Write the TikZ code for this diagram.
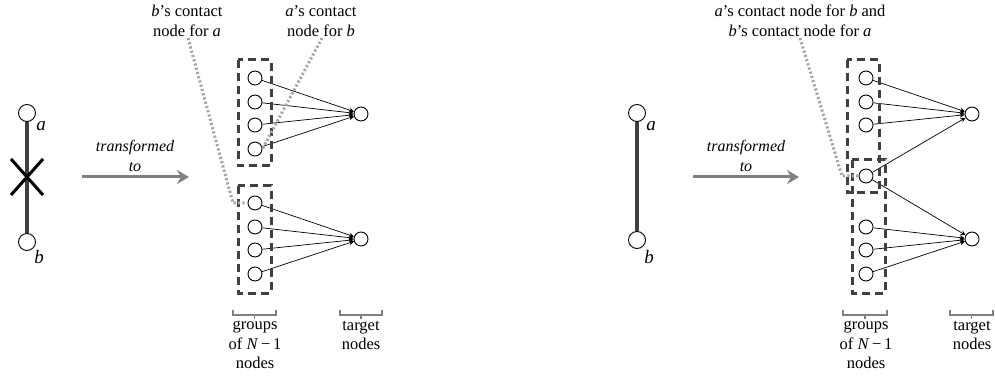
\documentclass[tikz,border=0pt]{standalone}
\usepackage{fontspec}
\setmainfont{Liberation Serif}
\usetikzlibrary{arrows.meta}
\begin{document}
\begin{tikzpicture}[x=1pt,y=-1pt,
  txt/.style={font=\fontsize{16.5}{20}\selectfont, inner sep=0pt, align=center},
  itx/.style={font=\fontsize{16}{20}\selectfont\itshape, inner sep=0pt, align=center},
  lbl/.style={font=\fontsize{19}{20}\selectfont\itshape, inner sep=0pt},
  bv/.style={circle, draw, fill=white, minimum size=17pt, inner sep=0pt, line width=0.9pt},
  sv/.style={circle, draw, fill=white, minimum size=14pt, inner sep=0pt, line width=0.9pt},
  abline/.style={line width=3.6pt, draw=black!75},
  cross/.style={line width=3pt, draw=black},
  tarrow/.style={line width=3pt, draw=black!50, -{Stealth[length=12pt,width=14pt,inset=4pt]}},
  edge/.style={line width=0.7pt, -{Stealth[length=5pt,width=5pt,inset=1.8pt]}},
  dbox/.style={line width=3pt, draw=black!75, dash pattern=on 8pt off 5pt},
  dots/.style={line width=3pt, draw=black!35, dash pattern=on 2.2pt off 2.2pt},
  brk/.style={line width=1.8pt, draw=black!50},
  glab/.style={txt, anchor=north, font=\fontsize{16.5}{19.5}\selectfont},
]
\useasboundingbox (0,0) rectangle (995,379);

% ---------------- left panel ----------------
\node[bv] (a1) at (27,113) {};
\node[bv] (b1) at (27,242) {};
\draw[abline] (a1) -- (b1);
\node[lbl] (la1) at (41,126) {a};
\node[lbl] (lb1) at (39,257) {b};
\draw[cross] (11,159) -- (43,195) (43,159) -- (11,195);

\coordinate (ts1) at (82,177);
\coordinate (te1) at (189,177);
\draw[tarrow] (ts1) -- (te1);
\node[itx] (tl1) at (135,156) {transformed\\to};

\foreach \i/\y in {1/78,2/102,3/125,4/149,5/203,6/227,7/250,8/274}
  \node[sv] (g\i) at (255,\y) {};
\node[sv] (t1) at (361,114) {};
\node[sv] (t2) at (361,239) {};
\foreach \i in {1,2,3,4} \draw[edge] (g\i) -- (t1);
\foreach \i in {5,6,7,8} \draw[edge] (g\i) -- (t2);

\draw[dbox] (238,60) rectangle (271,166);
\draw[dbox] (238,186) rectangle (271,293);

\node[txt] (cb) at (187,21) {\textit{b}’s contact\\node for \textit{a}};
\node[txt] (ca) at (321,21) {\textit{a}’s contact\\node for \textit{b}};
\coordinate (k1) at (233,203);
\draw[dots] (188,38) -- (k1) -- (g5.west);
\draw[dots] (322,38) -- (g4.east);

\draw[brk] (233,310) -- (233,315) -- (276,315) -- (276,310) (254.5,315) -- (254.5,319);
\draw[brk] (340,310) -- (340,315) -- (382,315) -- (382,310) (361,315) -- (361,319);
\node[glab] (gl1) at (255,321) {groups\\of \textit{N}\,−\,1\\nodes};
\node[glab] (tg1) at (361,321) {target\\nodes};

% ---------------- right panel ----------------
\node[bv] (a2) at (637,113) {};
\node[bv] (b2) at (637,240) {};
\draw[abline] (a2) -- (b2);
\node[lbl] (la2) at (651,126) {a};
\node[lbl] (lb2) at (649,257) {b};

\coordinate (ts2) at (693,177);
\coordinate (te2) at (799,177);
\draw[tarrow] (ts2) -- (te2);
\node[itx] (tl2) at (746,156) {transformed\\to};

\foreach \i/\y in {1/78,2/102,3/125,4/176,5/227,6/250,7/274}
  \node[sv] (h\i) at (866,\y) {};
\node[sv] (u1) at (972,114) {};
\node[sv] (u2) at (972,239) {};
\foreach \i in {1,2,3,4} \draw[edge] (h\i) -- (u1);
\foreach \i in {4,5,6,7} \draw[edge] (h\i) -- (u2);

\draw[dbox] (847,60) rectangle (879,193);
\draw[dbox] (852,160) rectangle (885,293);

\node[txt] (cab) at (800,21) {\textit{a}’s contact node for \textit{b} and\\\textit{b}’s contact node for \textit{a}};
\coordinate (k2) at (842,176);
\draw[dots] (800,38) -- (k2) -- (h4.west);

\draw[brk] (843,310) -- (843,315) -- (887,315) -- (887,310) (865,315) -- (865,319);
\draw[brk] (950,310) -- (950,315) -- (993,315) -- (993,310) (971.5,315) -- (971.5,319);
\node[glab] (gl2) at (866,321) {groups\\of \textit{N}\,−\,1\\nodes};
\node[glab] (tg2) at (972,321) {target\\nodes};
\end{tikzpicture}
\end{document}
